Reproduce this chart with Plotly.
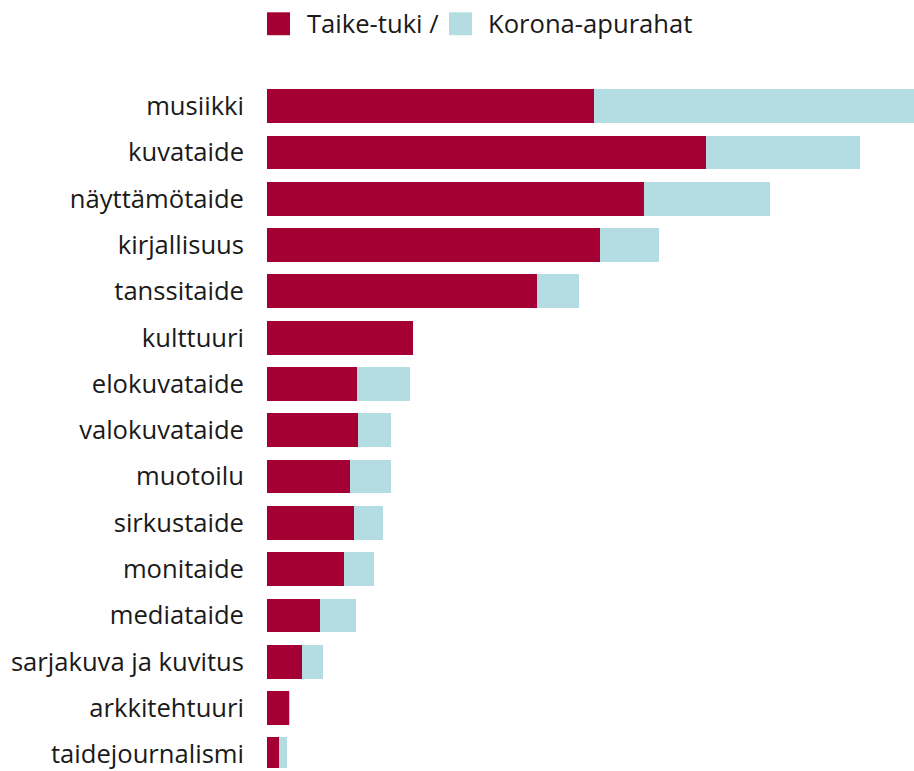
import plotly.graph_objects as go

# art forms, top to bottom
aloja = ['musiikki', 'kuvataide', 'näyttämötaide', 'kirjallisuus', 'tanssitaide',
         'kulttuuri', 'elokuvataide', 'valokuvataide', 'muotoilu', 'sirkustaide',
         'monitaide', 'mediataide', 'sarjakuva ja kuvitus', 'arkkitehtuuri',
         'taidejournalismi']
taike_tuki = [327, 439, 377, 333, 270, 146, 90, 91, 83, 87, 77, 53, 35, 22, 12]
korona_apurahat = [320, 154, 126, 59, 42, 0, 53, 33, 41, 29, 30, 36, 21, 1, 8]

RED = '#A50034'
BLUE = '#B3DDE2'
TXT = '#1a1a1a'
FS = 25.6

fig = go.Figure()
fig.add_trace(go.Bar(y=aloja, x=taike_tuki, orientation='h', name='Taike-tuki /',
                     marker=dict(color=RED, line_width=0)))
fig.add_trace(go.Bar(y=aloja, x=korona_apurahat, orientation='h', name='Korona-apurahat',
                     marker=dict(color=BLUE, line_width=0)))

W, H = 914, 771
L, T = 267, 83
pw, ph = W - L, H - T
total_max = max(a + b for a, b in zip(taike_tuki, korona_apurahat))

fig.update_layout(
    width=W, height=H, barmode='stack', bargap=0.27,
    margin=dict(l=L, r=0, t=T, b=0, pad=0),
    paper_bgcolor='white', plot_bgcolor='white',
    font=dict(family='Open Sans', size=FS, color=TXT),
    showlegend=False,
)
fig.update_xaxes(range=[0, total_max], visible=False, showgrid=False, zeroline=False)
fig.update_yaxes(type='category', range=[-0.5 + ph / 46.5, -0.5], showgrid=False,
                 zeroline=False, showline=False, ticks='', ticklabelstandoff=22,
                 tickfont=dict(size=FS, color=TXT))

# legend drawn by hand so the swatches are as big as in the original
def px_x(p):
    return (p - L) / pw

def px_y(p):
    return 1 + (T - p) / ph

for x0, col, label, tx in [(267, RED, 'Taike-tuki /', 306), (449, BLUE, 'Korona-apurahat', 487)]:
    fig.add_shape(type='rect', xref='paper', yref='paper', x0=px_x(x0), x1=px_x(x0 + 23),
                  y0=px_y(35), y1=px_y(12), fillcolor=col, line_width=0, layer='above')
    fig.add_annotation(xref='paper', yref='paper', x=px_x(tx - 1), y=px_y(23.5), text=label,
                       showarrow=False, xanchor='left', yanchor='middle',
                       font=dict(size=FS, color=TXT))

fig.write_html('out.html', config={'displayModeBar': False},
               post_script="document.body.style.margin='0';")
